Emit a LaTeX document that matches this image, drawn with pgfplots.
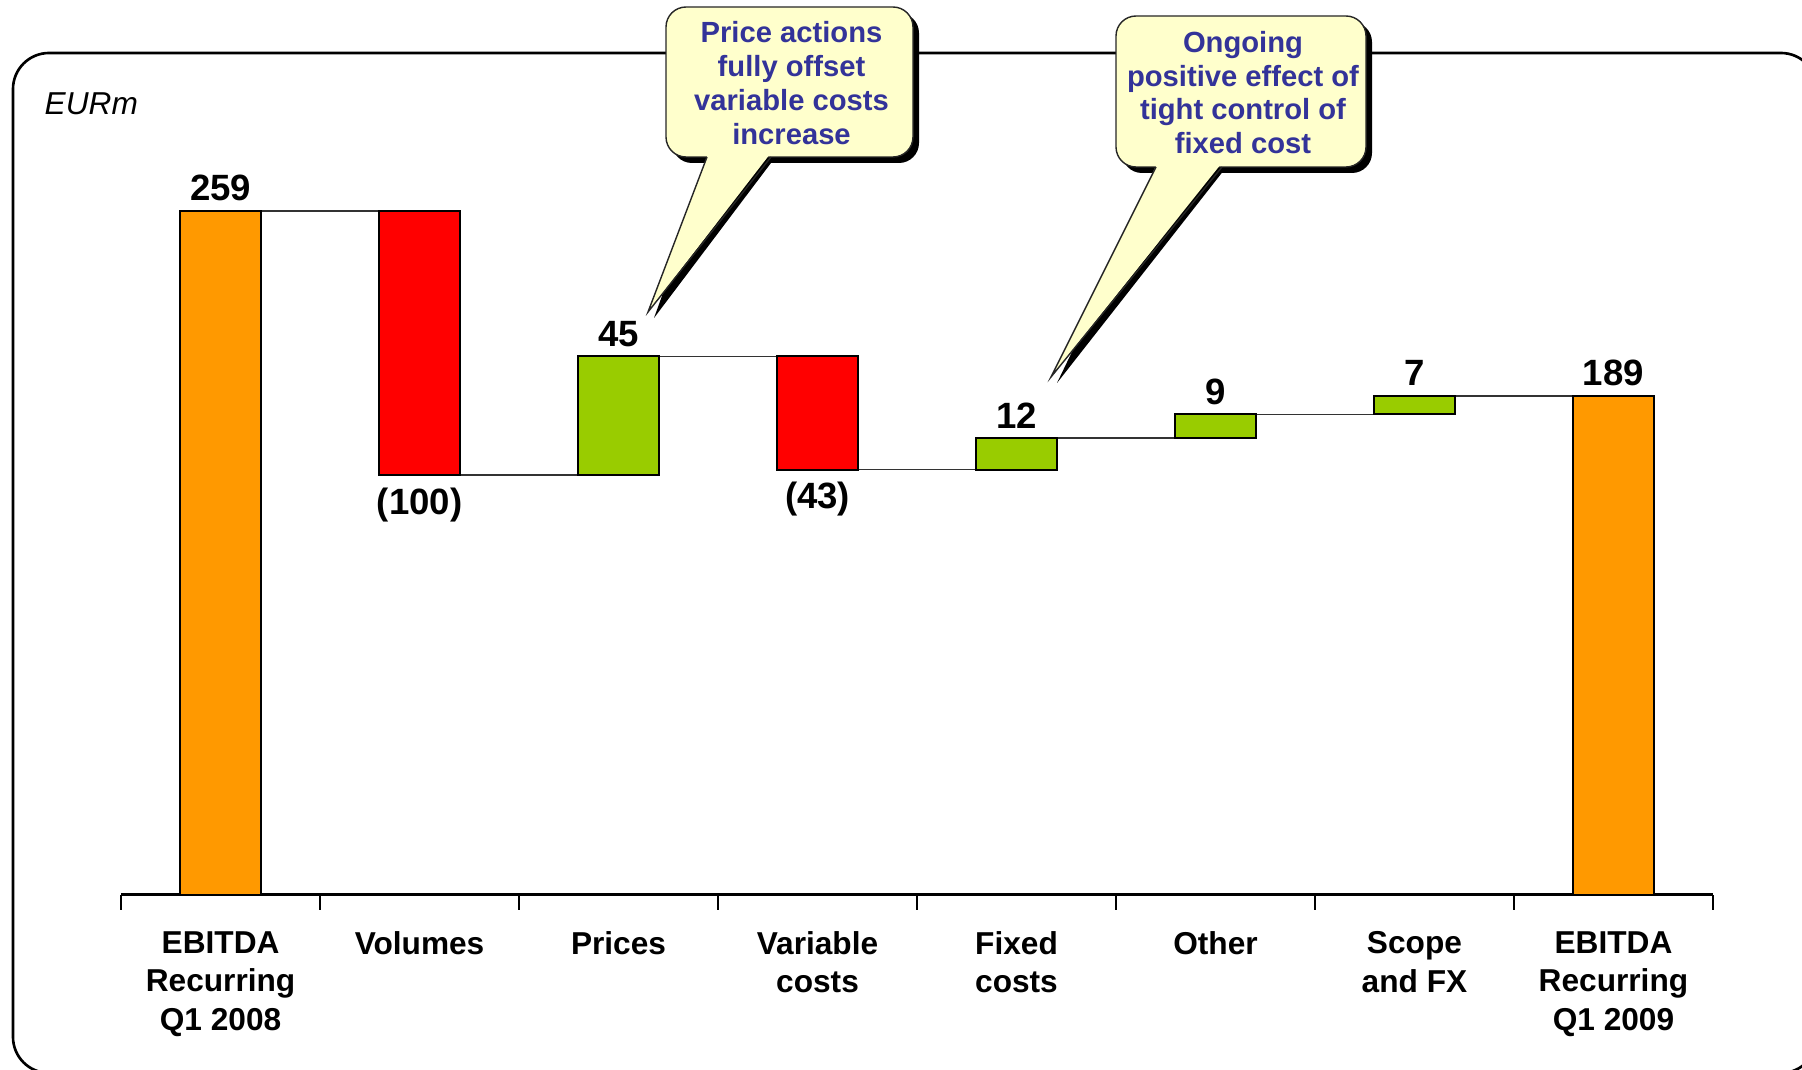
\documentclass[border=0pt]{standalone}
\usepackage{fontspec}
\setmainfont{Liberation Sans}
\usepackage{pgfplots}
\usepackage{pgfplotstable}
\pgfplotsset{compat=1.18}

\definecolor{barorange}{RGB}{255,153,0}
\definecolor{barred}{RGB}{255,0,0}
\definecolor{bargreen}{RGB}{153,204,0}
\definecolor{notefill}{RGB}{255,255,204}
\definecolor{notetext}{RGB}{51,51,153}

% EBITDA bridge, EURm: invisible base + one visible segment per step
\pgfplotstableread{
x base start minus plus
0 0   259 0   0
1 159 0   100 0
2 159 0   0   45
3 161 0   43  0
4 161 0   0   12
5 173 0   0   9
6 182 0   0   7
7 0   189 0   0
}\bridge

\pgfplotsset{
  bridge axis/.style={
    at={(1.21cm,1.74cm)}, anchor=south west,
    scale only axis, width=15.91cm, height=7.917cm,
    xmin=-0.5, xmax=7.5, ymin=0, ymax=300, clip=false,
  },
}

% rounded note box with a pointer and a drop shadow
% #1,#2 left/right  #3,#4 bottom/top  #5,#6 pointer base  #7,#8 pointer tip  #9 text
\newcommand{\callout}[9]{%
  \fill[black, rounded corners=0.2cm] (#1+6,#3-6) rectangle (#2+6,#4-6);
  \fill[black] (#5+6,#3+2) -- (#7+6,#8-6) -- (#6+6,#3+2) -- cycle;
  \filldraw[fill=notefill, draw=black!85, line width=0.4pt, rounded corners=0.2cm]
    (#1,#3) rectangle (#2,#4);
  \fill[notefill] (#5+1,#3+3) -- (#7,#8) -- (#6-1,#3+3) -- cycle;
  \draw[black!85, line width=0.4pt] (#5,#3) -- (#7,#8) -- (#6,#3);
  \node[text=notetext, align=center, inner sep=0pt,
        font=\fontsize{8.3}{9.6}\selectfont\bfseries]
    at ({(#1+#2)/2+2},{(#3+#4)/2-1}) {#9};
}

\begin{document}
\begin{tikzpicture}[x=0.01cm, y=0.01cm]
  \path[use as bounding box] (0,0) rectangle (1802,1069);
  \clip (0,0) rectangle (1802,1069);

  % panel frame
  \draw[line width=0.75pt, rounded corners=0.36cm] (13,-4) rectangle (1817,1016);

  \node[anchor=base west, inner sep=0pt,
        font=\fontsize{9}{11}\selectfont\itshape] at (44,954) {EURm};

  % connectors and value labels
  \begin{axis}[bridge axis, hide axis]
    \addplot[black!80, line width=0.4pt, unbounded coords=jump] coordinates {
      (0,259) (1,259) (1,nan)
      (1,159) (2,159) (2,nan)
      (2,204) (3,204) (3,nan)
      (3,161) (4,161) (4,nan)
      (4,173) (5,173) (5,nan)
      (5,182) (6,182) (6,nan)
      (6,189) (7,189)
    };
    \addplot[draw=none, mark=none, nodes near coords, point meta=explicit symbolic,
      every node near coord/.append style={anchor=base, yshift=0.1cm, inner sep=0pt,
        text=black, font=\fontsize{10.4}{12}\selectfont\bfseries}]
      coordinates {(0,259)[259] (2,204)[45] (4,173)[12] (5,182)[9] (6,189)[7] (7,189)[189]};
    \addplot[draw=none, mark=none, nodes near coords, point meta=explicit symbolic,
      every node near coord/.append style={anchor=north, yshift=-0.12cm, inner sep=0pt,
        text=black, font=\fontsize{10.4}{12}\selectfont\bfseries}]
      coordinates {(1,159)[(100)] (3,161)[(43)]};
  \end{axis}

  % bars
  \begin{axis}[bridge axis, ybar stacked, bar width=0.41,
    axis x line=bottom, axis y line=none,
    x axis line style={-, line width=0.85pt},
    xtick={0,...,7}, major tick length=0pt,
    minor xtick={-0.5,0.5,...,7.5}, minor tick length=0.15cm,
    tick align=outside, minor tick style={black, line width=0.4pt},
    xticklabels={{EBITDA\\Recurring\\Q1 2008}, Volumes, Prices,
      {Variable\\costs}, {Fixed\\costs}, Other, {Scope\\and FX},
      {EBITDA\\Recurring\\Q1 2009}},
    xticklabel style={align=center, anchor=north, yshift=-0.24cm,
      font=\fontsize{9}{11}\selectfont\bfseries},
  ]
    \addplot[draw=none, fill=none] table[x=x, y=base] {\bridge};
    \addplot[fill=barorange, draw=black, line width=0.5pt] table[x=x, y=start] {\bridge};
    \addplot[fill=barred, draw=black, line width=0.5pt] table[x=x, y=minus] {\bridge};
    \addplot[fill=bargreen, draw=black, line width=0.5pt] table[x=x, y=plus] {\bridge};
  \end{axis}

  \callout{666}{913}{912}{1062}{707}{771}{648}{757}
    {Price actions\\fully offset\\variable costs\\increase}
  \callout{1116}{1366}{902}{1053}{1156}{1222}{1051}{692}
    {Ongoing\\positive effect of\\tight control of\\fixed cost}
\end{tikzpicture}
\end{document}
